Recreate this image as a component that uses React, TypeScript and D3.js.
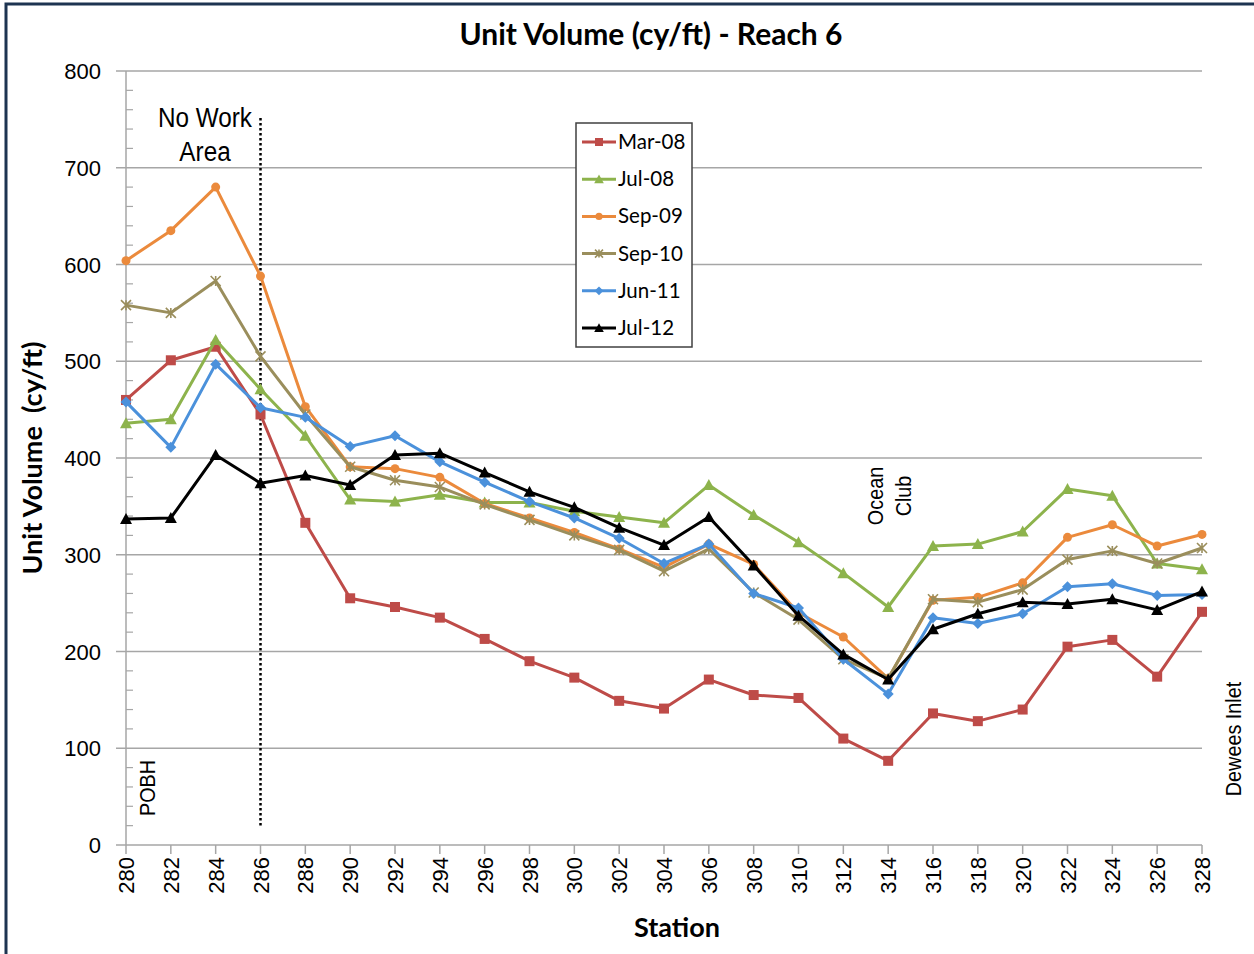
import React from "react";
import * as d3 from "d3";

const stations = [280, 282, 284, 286, 288, 290, 292, 294, 296, 298, 300, 302, 304, 306, 308, 310, 312, 314, 316, 318, 320, 322, 324, 326, 328];
const yTicks = [0, 100, 200, 300, 400, 500, 600, 700, 800];

const mar08 = [460, 501, 515, 445, 333, 255, 246, 235, 213, 190, 173, 149, 141, 171, 155, 152, 110, 87, 136, 128, 140, 205, 212, 174, 241];
const jul08 = [436, 440, 522, 471, 423, 357, 355, 362, 354, 354, 345, 339, 333, 372, 341, 313, 281, 246, 309, 311, 324, 368, 361, 291, 285];
const sep09 = [604, 635, 680, 588, 453, 391, 389, 380, 353, 338, 323, 306, 287, 311, 290, 240, 215, 172, 253, 256, 271, 318, 331, 309, 321];
const sep10 = [558, 550, 583, 505, 445, 391, 377, 370, 352, 336, 320, 305, 283, 306, 261, 233, 192, 172, 254, 251, 264, 295, 304, 291, 307];
const jun11 = [458, 411, 497, 452, 442, 412, 423, 396, 375, 355, 338, 317, 291, 311, 260, 245, 192, 156, 235, 229, 239, 267, 270, 258, 259];
const jul12 = [337, 338, 403, 374, 382, 372, 403, 405, 385, 365, 349, 328, 310, 339, 289, 237, 197, 171, 223, 239, 251, 249, 254, 243, 262];

const series = [
  { name: "Mar-08", values: mar08, color: "#be4b48", marker: "square" },
  { name: "Jul-08", values: jul08, color: "#8db34c", marker: "triangle" },
  { name: "Sep-09", values: sep09, color: "#eb8a3c", marker: "circle" },
  { name: "Sep-10", values: sep10, color: "#9a8e5c", marker: "star" },
  { name: "Jun-11", values: jun11, color: "#4b91db", marker: "diamond" },
  { name: "Jul-12", values: jul12, color: "#000000", marker: "triangle" },
];

const W = 1254;
const H = 954;
const margin = { top: 71, right: 52, bottom: 109, left: 126 };

const sans = "'Liberation Sans', Arial, sans-serif";
const cal = "Lato, 'Open Sans', sans-serif";

function Marker({ type, x, y, color, s = 1 }) {
  if (type === "square")
    return <rect x={x - 5 * s} y={y - 5 * s} width={10 * s} height={10 * s} fill={color} />;
  if (type === "circle") return <circle cx={x} cy={y} r={4.5 * s} fill={color} />;
  if (type === "triangle")
    return <path d={`M${x},${y - 6 * s}L${x + 6 * s},${y + 5 * s}L${x - 6 * s},${y + 5 * s}Z`} fill={color} />;
  if (type === "diamond")
    return <path d={`M${x},${y - 5.5 * s}L${x + 5.5 * s},${y}L${x},${y + 5.5 * s}L${x - 5.5 * s},${y}Z`} fill={color} />;
  // star: x with vertical bar
  const r = 5 * s;
  return (
    <path
      d={`M${x - r},${y - r}L${x + r},${y + r}M${x - r},${y + r}L${x + r},${y - r}M${x},${y - r}L${x},${y + r}`}
      stroke={color}
      strokeWidth={1.6}
      fill="none"
    />
  );
}

// condensed label (Arial Narrow look)
function Narrow({ x, y, rot = 0, size = 22, children }) {
  return (
    <text
      transform={`translate(${x},${y}) rotate(${rot}) scale(0.9,1)`}
      textAnchor="middle"
      fontFamily={sans}
      fontSize={size}
      fill="#000"
    >
      {children}
    </text>
  );
}

export default function App() {
  const x = d3
    .scaleLinear()
    .domain([280, 328])
    .range([margin.left, W - margin.right]);
  const y = d3
    .scaleLinear()
    .domain([0, 800])
    .range([H - margin.bottom, margin.top]);
  const minor = d3.range(0, 800, 20).filter((v) => v % 100 !== 0);

  const line = d3
    .line<number>()
    .x((_, i) => x(stations[i]))
    .y((d) => y(d));

  const x0 = x(280);
  const x1 = x(328);
  const yb = y(0);

  return (
    <svg width={W} height={H} style={{ position: "absolute", left: 0, top: 0, background: "#fff" }}>
      <rect x={6} y={4} width={W + 10} height={H + 10} fill="none" stroke="#1d3451" strokeWidth={3} />
      <text x={651} y={45} textAnchor="middle" fontFamily={cal} fontWeight="bold" fontSize={30} fill="#000">
        Unit Volume (cy/ft) - Reach 6
      </text>

      {/* grid + y axis */}
      {yTicks.map((t) => (
        <g key={t}>
          <line x1={x0 - 10} x2={x1} y1={y(t)} y2={y(t)} stroke="#a6a6a6" strokeWidth={1.5} />
          <text x={101} y={y(t) + 8} textAnchor="end" fontFamily={sans} fontSize={22} fill="#000">
            {t}
          </text>
        </g>
      ))}
      {minor.map((t) => (
        <line key={t} x1={x0} x2={x0 + 7} y1={y(t)} y2={y(t)} stroke="#a6a6a6" strokeWidth={1.2} />
      ))}
      <line x1={x0} x2={x0} y1={y(800)} y2={yb} stroke="#a6a6a6" strokeWidth={1.5} />

      {/* x axis */}
      {stations.map((s) => (
        <g key={s}>
          <line x1={x(s)} x2={x(s)} y1={yb} y2={yb + 9} stroke="#a6a6a6" strokeWidth={1.5} />
          <text
            transform={`translate(${x(s) + 8},${yb + 12}) rotate(-90)`}
            textAnchor="end"
            fontFamily={sans}
            fontSize={22}
            fill="#000"
          >
            {s}
          </text>
        </g>
      ))}

      <text
        transform={`translate(42,${458}) rotate(-90)`}
        textAnchor="middle"
        fontFamily={cal}
        fontWeight="bold"
        fontSize={27}
        fill="#000"
        style={{ whiteSpace: "pre" }}
      >
        {"Unit Volume  (cy/ft)"}
      </text>
      <text x={677} y={937} textAnchor="middle" fontFamily={cal} fontWeight="bold" fontSize={27} fill="#000">
        Station
      </text>

      {/* annotations */}
      <line x1={x(286)} x2={x(286)} y1={118} y2={828} stroke="#000" strokeWidth={2.5} strokeDasharray="2.5,2.5" />
      <Narrow x={205} y={127} size={27}>No Work</Narrow>
      <Narrow x={205} y={161} size={27}>Area</Narrow>
      <Narrow x={155} y={788} rot={-90}>POBH</Narrow>
      <Narrow x={883} y={496} rot={-90}>Ocean</Narrow>
      <Narrow x={911} y={496} rot={-90}>Club</Narrow>
      <Narrow x={1241} y={739} rot={-90}>Dewees Inlet</Narrow>

      {/* series */}
      {series.map((s) => (
        <g key={s.name}>
          <path d={line(s.values) || ""} fill="none" stroke={s.color} strokeWidth={3} strokeLinejoin="round" />
          {s.values.map((v, i) => (
            <Marker key={i} type={s.marker} x={x(stations[i])} y={y(v)} color={s.color} />
          ))}
        </g>
      ))}

      {/* legend */}
      <g>
        <rect x={576} y={123} width={116} height={224} fill="#fff" stroke="#404040" strokeWidth={1.5} />
        {series.map((s, i) => {
          const ly = 142 + i * 37.2;
          return (
            <g key={s.name}>
              <line x1={582} x2={616} y1={ly} y2={ly} stroke={s.color} strokeWidth={3} />
              <Marker type={s.marker} x={599} y={ly} color={s.color} s={0.8} />
              <text x={618} y={ly + 7} fontFamily={cal} fontSize={20.5} fill="#000">
                {s.name}
              </text>
            </g>
          );
        })}
      </g>
    </svg>
  );
}
